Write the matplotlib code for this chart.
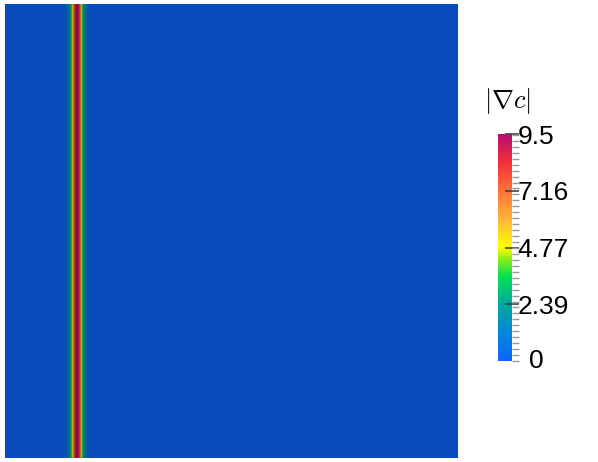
import matplotlib
matplotlib.use("Agg")
import matplotlib.pyplot as plt
import numpy as np
from matplotlib.colors import LinearSegmentedColormap, Normalize

# field: one row of |grad c| values across the domain (uniform in y)
n_cols = 453
band_start = 59          # first column of the listed band values
band_vals = [0.30, 0.45, 0.68, 1.00, 1.45, 2.05, 2.85, 3.85, 5.05, 6.40,
             7.75, 8.85, 9.45, 9.45, 8.85, 7.75, 6.40, 5.05, 3.85, 2.85,
             2.05, 1.45, 1.00, 0.68, 0.45, 0.30]
vmin, vmax = 0.0, 9.54
tick_vals = [2.385, 4.77, 7.155, 9.54]
tick_labels = ['2.39', '4.77', '7.16', '9.5']
minor_step = 0.25
cbar_title = r'$|\nabla c|$'

row = np.zeros(n_cols)
row[band_start:band_start + len(band_vals)] = band_vals
field = np.tile(row, (n_cols, 1))

# rainbow-like colour map as in the viewer
stops = [(0.00, (0.04, 0.40, 1.00)),
         (0.12, (0.02, 0.52, 0.86)),
         (0.25, (0.00, 0.66, 0.62)),
         (0.37, (0.00, 0.88, 0.32)),
         (0.45, (0.55, 0.93, 0.10)),
         (0.50, (1.00, 1.00, 0.00)),
         (0.62, (1.00, 0.72, 0.22)),
         (0.75, (1.00, 0.45, 0.22)),
         (0.88, (0.95, 0.18, 0.22)),
         (1.00, (0.72, 0.05, 0.45))]
cmap = LinearSegmentedColormap.from_list('rainbow_pv', stops)
# surface in the render is shaded a bit darker than the bar
shade = 0.73
dark = LinearSegmentedColormap.from_list(
    'rainbow_pv_dark', [(p, tuple(c * shade for c in col)) for p, col in stops])
norm = Normalize(vmin, vmax)

W, H = 598, 462
fig = plt.figure(figsize=(W / 100, H / 100), dpi=100)
ax = fig.add_axes([5 / W, 4 / H, 453 / W, 454 / H])
ax.imshow(field, cmap=dark, norm=norm, interpolation='bilinear',
          aspect='auto', origin='lower')
ax.set_axis_off()

cax = fig.add_axes([498 / W, (H - 361) / H, 14 / W, 227 / H])
sm = plt.cm.ScalarMappable(norm=norm, cmap=cmap)
cb = fig.colorbar(sm, cax=cax)
cb.outline.set_visible(False)
cb.set_ticks(tick_vals)
cb.set_ticklabels(tick_labels)
cb.set_ticks(np.arange(vmin, vmax, minor_step), minor=True)
cax.tick_params(which='major', direction='inout', length=10, width=1.2,
                color='#444444', labelsize=19, pad=-1)
cax.tick_params(which='minor', direction='out', length=5, width=1,
                color='#999999')
for t in cax.get_yticklabels():
    t.set_family('Liberation Sans')
cax.text(2.75, 0.0, '0', transform=cax.transAxes, fontsize=19,
         family='Liberation Sans', ha='center', va='center')
plt.rcParams['mathtext.fontset'] = 'cm'
fig.text(507 / W, 1 - 101 / H, cbar_title, fontsize=19,
         ha='center', va='center')

fig.savefig('out.png', dpi=100)
